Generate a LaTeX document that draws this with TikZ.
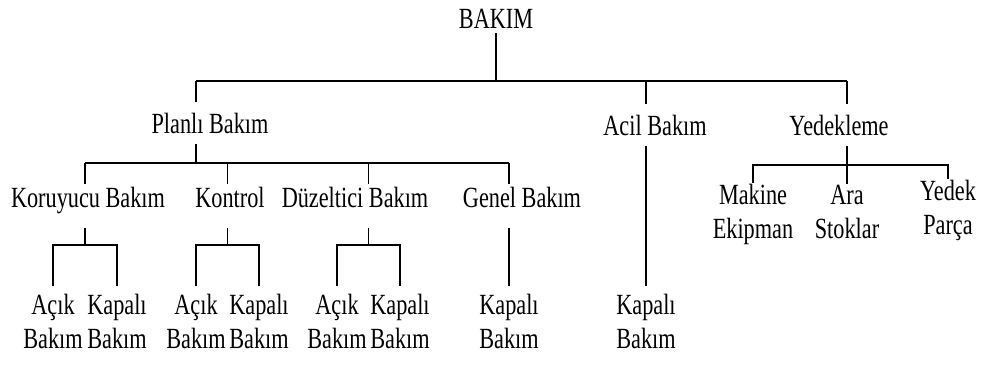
\documentclass[tikz,border=0pt]{standalone}
\usepackage{fontspec}
\setmainfont[FakeStretch=0.76]{Liberation Serif}
\usetikzlibrary{calc}

\tikzset{
  lbl/.style={inner sep=0pt, anchor=base, text height=17.5pt, text depth=0pt,
    font=\fontsize{25}{29}\selectfont},
  row/.style={outer ysep=2.5pt, text depth=15pt},
  leaf/.style={inner sep=0pt, anchor=base, align=center, outer ysep=7pt,
    font=\fontsize{25}{28.5}\selectfont},
  stock/.style={leaf, outer ysep=1pt, font=\fontsize{25}{29}\selectfont},
  link/.style={line width=1pt}
}

\begin{document}
\begin{tikzpicture}[x=0.03cm, y=-0.03cm]
\useasboundingbox (0,0) rectangle (984,367);

% heights of the horizontal bars
\coordinate (top) at (0,81);
\coordinate (mid) at (0,163);
\coordinate (side) at (0,165);
\coordinate (low) at (0,245);

\node[lbl, outer ysep=3.5pt] (bakim) at (496,29) {BAKIM};

\node[lbl, outer ysep=9pt] (planli) at (210,133) {Planlı Bakım};
\node[lbl, outer ysep=9pt] (acil) at (655,135) {Acil Bakım};
\node[lbl, outer ysep=9pt] (yedekleme) at (839,135) {Yedekleme};

\node[lbl, row] (koruyucu) at (88,207) {Koruyucu Bakım};
\node[lbl, row] (kontrol) at (230,207) {Kontrol};
\node[lbl, row] (duzeltici) at (355,207) {Düzeltici Bakım};
\node[lbl, row] (genel) at (522,207) {Genel Bakım};

% two-line nodes sit on the baseline of their last line
\node[stock] (makine) at (753,238) {Makine\\Ekipman};
\node[stock] (ara) at (847,238) {Ara\\Stoklar};
\node[stock] (yedek) at (948,234) {Yedek\\Parça};

\node[leaf] (ka1) at (53,348) {Açık\\Bakım};
\node[leaf] (kk1) at (117,348) {Kapalı\\Bakım};
\node[leaf] (ka2) at (196,348) {Açık\\Bakım};
\node[leaf] (kk2) at (259,348) {Kapalı\\Bakım};
\node[leaf] (ka3) at (337,348) {Açık\\Bakım};
\node[leaf] (kk3) at (400,348) {Kapalı\\Bakım};
\node[leaf] (genelk) at (509,348) {Kapalı\\Bakım};
\node[leaf] (acilk) at (646,348) {Kapalı\\Bakım};

% BAKIM
\draw[link] (bakim.south) -- (bakim.south |- top);
\draw[link] ([xshift=-12pt]planli.north |- top) -- (ara.north |- top);
\draw[link] ([xshift=-12pt]planli.north |- top) -- ([xshift=-12pt]planli.north);
\draw[link] (acilk.north |- top) -- (acilk.north |- acil.north);
\draw[link] (ara.north |- top) -- (ara.north |- yedekleme.north);

% Planli Bakim and its branches
\draw[link] ([xshift=-12pt]planli.south) -- ([xshift=-12pt]planli.south |- mid);
\foreach \p/\a/\b in {koruyucu/ka1/kk1, kontrol/ka2/kk2, duzeltici/ka3/kk3} {
  \coordinate (m-\p) at ($(\a.north)!0.5!(\b.north)$);
  \draw[link] (m-\p |- mid) -- (m-\p |- \p.north);
  \draw[link] (m-\p |- \p.south) -- (m-\p |- low);
  \draw[link] (\a.north) -- (\a.north |- low) -- (\b.north |- low) -- (\b.north);
}
\draw[link] (m-koruyucu |- mid) -- (genelk.north |- mid);
\draw[link] (genelk.north |- mid) -- (genelk.north |- genel.north);
\draw[link] (genelk.north |- genel.south) -- (genelk.north);

% Acil Bakim
\draw[link] (acilk.north |- acil.south) -- (acilk.north);

% Yedekleme
\draw[link] (ara.north |- yedekleme.south) -- (ara.north);
\draw[link] (makine.north) -- (makine.north |- side) -- (yedek.north |- side) -- (yedek.north);
\end{tikzpicture}
\end{document}
